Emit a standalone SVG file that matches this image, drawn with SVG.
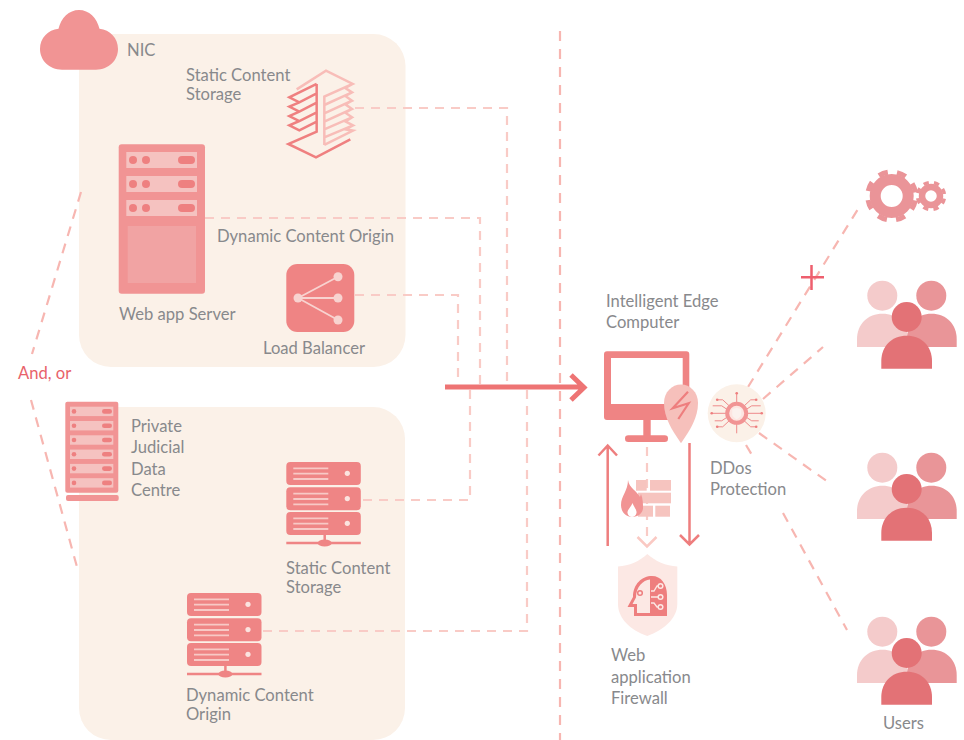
<svg xmlns="http://www.w3.org/2000/svg" xmlns:xlink="http://www.w3.org/1999/xlink" width="964" height="740" viewBox="0 0 964 740">
<style>
text{font-family:"Lato","Liberation Sans",sans-serif;font-size:16.6px;fill:#88898c;font-weight:400}
.dash{fill:none;stroke:#f9cbc6;stroke-width:2.200;stroke-dasharray:9 7}
.dash2{fill:none;stroke:#f7b6b1;stroke-width:2.200;stroke-dasharray:10 8}
.panel{fill:#fbf1e8}
.slot{fill:#f5c2c0}
.pill{fill:#ee8080}
.unit{fill:#ef8585}
.ul{stroke:#f8c9c6;stroke-width:1.800}
.ar{fill:none;stroke:#ee7e7e;stroke-width:2.500}
</style>
<defs>
<g id="stack">
<rect class="unit" x="0" y="0" width="74.500" height="23" rx="4"/>
<rect class="unit" x="0" y="25.300" width="74.500" height="23" rx="4"/>
<rect class="unit" x="0" y="50" width="74.500" height="23" rx="4"/>
<g class="ul"><path d="M7 6.300H42M7 11.700H42M7 17H42M7 31.600H42M7 37H42M7 42.300H42M7 56.300H42M7 61.700H42M7 67H42"/></g>
<circle cx="61" cy="11.300" r="2.600" fill="#fbe3df"/><circle cx="61" cy="36.600" r="2.600" fill="#fbe3df"/><circle cx="61" cy="61.300" r="2.600" fill="#fbe3df"/>
<path d="M38.400 73V81M0 81H74.500" stroke="#ef8585" stroke-width="2.500" fill="none"/>
<ellipse cx="38.400" cy="81" rx="7" ry="3.600" fill="#ef8585"/>
</g>
<g id="bigslot">
<rect class="slot" x="126.300" y="0" width="70.700" height="16"/>
<circle cx="133" cy="8" r="4" fill="#ee8080"/><circle cx="146" cy="8" r="4" fill="#ee8080"/>
<rect class="pill" x="178" y="4" width="17" height="8" rx="4"/>
</g>
<g id="smallslot">
<rect class="slot" x="70" y="0" width="43.300" height="9.400"/>
<circle cx="74" cy="4.700" r="2.300" fill="#ee8080"/>
<rect class="pill" x="102" y="2.400" width="10" height="4.600" rx="2.300"/>
</g>
<g id="people">
<circle cx="882.300" cy="295.700" r="15" fill="#f4cbcb"/>
<path d="M857 347V339C857 324 868 313.700 882.500 313.700C897 313.700 908 324 908 339V347Z" fill="#f4cbcb"/>
<circle cx="931.300" cy="295.700" r="15" fill="#e99598"/>
<path d="M907 347V339C907 324 917 313.700 931.500 313.700C946 313.700 956.700 324 956.700 339V347Z" fill="#e99598"/>
<circle cx="906.700" cy="317" r="15" fill="#e37276"/>
<path d="M881.300 368.700V361C881.300 346 892 335.700 906.700 335.700C921.500 335.700 932 346 932 361V368.700Z" fill="#e37276"/>
</g>
<g id="ddosHalf" fill="none" stroke="#ee8a8a" stroke-width="1">
<path d="M-7 -7L-14 -13.500H-19.500"/>
<path d="M-9 -3.500L-15 -7.500H-24"/>
<path d="M-10 0H-25"/>
<path d="M-9 3.500L-15 7.500H-22"/>
<path d="M-7 7L-14 13.500H-19.500"/>
<circle cx="-19.500" cy="-13.500" r="1.300" fill="#ee7e7e" stroke="none"/>
<circle cx="-25" cy="0" r="1.300" fill="#ee7e7e" stroke="none"/>
<circle cx="-19.500" cy="13.500" r="1.300" fill="#ee7e7e" stroke="none"/>
</g>
</defs>
<rect width="964" height="740" fill="#fff"/>

<g id="panels">
<rect id="panel-nic" class="panel" x="79" y="34" width="326.500" height="333" rx="32"/>
<rect id="panel-private" class="panel" x="79" y="407" width="326" height="333" rx="32"/>
</g>

<g id="connectors">
<path class="dash" d="M355 108H507V384"/>
<path class="dash" d="M205 218H480V384"/>
<path class="dash" d="M355 295H458V384"/>
<path class="dash" d="M363 500H470V390"/>
<path class="dash" d="M263 631H527V390"/>
<path class="dash2" d="M560 31V740"/>
<path class="dash2" d="M81 192L32 354"/>
<path class="dash2" d="M31 400L77 567"/>
<path class="dash2" d="M748 387L858 209"/>
<path class="dash2" d="M763 399L823 347"/>
<path class="dash2" d="M759 433L828 482"/>
<path class="dash2" d="M746 445L755 460"/>
<path class="dash2" d="M783 513L847 630"/>
<path class="dash" d="M647 447V543"/>
<path d="M637.500 537L647 546.500L656.500 537" fill="none" stroke="#fac9c3" stroke-width="2.500"/>
<path d="M445 387H583M571 375L584 387.500L571 400" fill="none" stroke="#ee7474" stroke-width="5"/>
<path class="ar" d="M607.700 546V446M598.500 455.500L607.700 445.500L617 455.500"/>
<path class="ar" d="M689.500 443V544M680 535L689.500 544.500L699 535"/>
<path d="M801 277.300H824M811.500 265V290" stroke="#ee5f6e" stroke-width="2.500" fill="none"/>
</g>

<g id="nic">
<path d="M62 69.700C49 69.700 40 60 40 49C40 38 48 30 58.500 28.800C61 18 69 10 79 10C89 10 97 18 99.500 28.800C110 30 118 38 118 49C118 60 109 69.700 96 69.700Z" fill="#f19494"/>
<text x="127" y="56">NIC</text>
</g>

<g id="static-storage-top">
<g transform="translate(281 60) scale(.3333)" fill="none" stroke-width="7.500">
<path stroke="#f8bdb8" d="M47 88L135 32L215 72L130 110V255M215 72L193 84L213 97L130 135M213 97L193 108L213 122L130 160M213 122L193 133L213 147L130 185M213 147L193 158L213 172L130 208M213 172L193 184L216 196L130 232M216 196L193 208L216 212L130 255"/>
<path stroke="#ef8080" d="M107 72L25 112L55 127L107 100M55 127L25 140L55 155L107 128M55 155L25 168L55 183L107 157M55 183L25 196L55 211L107 185M107 72V215L22 252L105 292L208 238"/>
</g>
<text x="186" y="81">Static Content</text>
<text x="186" y="100">Storage</text>
</g>

<g id="web-app-server">
<rect x="118.700" y="144.300" width="86.300" height="149.400" rx="3" fill="#f19494"/>
<use xlink:href="#bigslot" href="#bigslot" y="152"/>
<use xlink:href="#bigslot" href="#bigslot" y="176"/>
<use xlink:href="#bigslot" href="#bigslot" y="200"/>
<rect x="127.700" y="226" width="68.300" height="57" fill="#f1a3a3"/>
<text x="119" y="320">Web app Server</text>
</g>

<g id="dynamic-origin-top">
<text x="217" y="242">Dynamic Content Origin</text>
</g>

<g id="load-balancer">
<rect x="286.300" y="264" width="68" height="68" rx="11" fill="#ef8484"/>
<path d="M298 298L338 276.700M298 298H338M298 298L338 320" stroke="#f8d3d0" stroke-width="1.800" fill="none"/>
<g fill="#f8d3d0"><circle cx="298" cy="298" r="4.500"/><circle cx="338" cy="276.700" r="4.500"/><circle cx="338" cy="298" r="4.500"/><circle cx="338" cy="320" r="4.500"/></g>
<text x="263" y="354">Load Balancer</text>
</g>

<g id="and-or"><text x="18" y="379" style="fill:#e8626a">And, or</text></g>

<g id="private-data-centre">
<rect x="65.300" y="401.700" width="53" height="91" rx="2" fill="#f19494"/>
<rect x="66" y="495" width="52.700" height="6" rx="2" fill="#f19494"/>
<use xlink:href="#smallslot" href="#smallslot" y="406.700"/>
<use xlink:href="#smallslot" href="#smallslot" y="421"/>
<use xlink:href="#smallslot" href="#smallslot" y="435.300"/>
<use xlink:href="#smallslot" href="#smallslot" y="449.600"/>
<use xlink:href="#smallslot" href="#smallslot" y="463.900"/>
<use xlink:href="#smallslot" href="#smallslot" y="478.200"/>
<text x="131" y="432">Private</text>
<text x="131" y="453">Judicial</text>
<text x="131" y="475">Data</text>
<text x="131" y="496">Centre</text>
</g>

<g id="static-storage-bottom">
<use xlink:href="#stack" href="#stack" x="286.300" y="462"/>
<text x="286" y="574">Static Content</text>
<text x="286" y="593">Storage</text>
</g>

<g id="dynamic-origin-bottom">
<use xlink:href="#stack" href="#stack" x="187" y="593"/>
<text x="186" y="701">Dynamic Content</text>
<text x="186" y="720">Origin</text>
</g>

<g id="edge-computer">
<path fill-rule="evenodd" d="M607 351.300H686.300Q689.300 351.300 689.300 354.300V417Q689.300 420 686.300 420H607Q604 420 604 417V354.300Q604 351.300 607 351.300ZM611 358V404H682.700V358Z" fill="#ef8484"/>
<rect x="643.300" y="420" width="7.400" height="17" fill="#ef8484"/>
<rect x="625" y="435.300" width="43" height="6.700" rx="3.300" fill="#ef8484"/>
<path d="M681 443.300C672 430 664 418 664 403C664 392 672 384.500 681 384.500C690 384.500 698 392 698 403C698 418 690 430 681 443.300Z" fill="#f6c0bb"/>
<path d="M688 391.700L672.700 408.300L688.700 403.300L678.300 419" fill="none" stroke="#ee7e7e" stroke-width="2.200"/>
<text x="606" y="307">Intelligent Edge</text>
<text x="606" y="328">Computer</text>
</g>

<g id="ddos">
<circle cx="736.700" cy="413.300" r="29" fill="#fbf1e8"/>
<g transform="translate(736.700 413.300)">
<path d="M0 -10V-20M0 10V20" stroke="#ee8a8a" stroke-width="1"/>
<circle cx="0" cy="-20" r="1.300" fill="#ee7e7e"/>
<use xlink:href="#ddosHalf" href="#ddosHalf"/>
<use xlink:href="#ddosHalf" href="#ddosHalf" transform="scale(-1 1)"/>
<circle r="9.500" fill="#fde5e1" stroke="#f19494" stroke-width="4"/>
<path d="M0 -5.500L4.500 -4V1C4.500 3.500 2 5 0 6C-2 5 -4.500 3.500 -4.500 1V-4Z" fill="#fbf1ee"/>
</g>
<text x="710" y="474">DDos</text>
<text x="710" y="495">Protection</text>
</g>

<g id="firewall">
<g fill="#f6c4bf">
<rect x="636" y="480" width="10.700" height="10.700"/>
<rect x="650" y="480" width="21" height="10.700"/>
<rect x="638" y="492.700" width="33" height="10.600"/>
<rect x="638" y="505.700" width="15" height="11"/>
<rect x="655.300" y="505.700" width="14.700" height="11"/>
</g>
<path d="M628 480C629 488 637 491 640 497L641 494C643 499 643 504 643 508C643 513 638 517 632 517C626 517 621 512 621 505C621 496 628 491 628 480Z" fill="#f19494"/>
<path d="M632.500 503C634 507 637 510 636.500 513C636 515.500 634 517 632 517C630 517 628 515.500 627.500 513C627 510 631 507 632.500 503Z" fill="#fff"/>
</g>

<g id="waf">
<path d="M647.300 554C655 561 666 566 677.300 566.500V604C677.300 618 664 630 647.300 636C630 630 618 618 618 604V566.500C629 566 640 561 647.300 554Z" fill="#fce8e4"/>
<path d="M634 616V607H627.500L633 597C633 584 642 576 652 576C661 576 667 584 667 595V616Z" fill="#ee7e7e"/>
<path d="M637 613V604H632.500L636 597.500C636 587 643 580 650 579.500V613Z" fill="#fce8e4"/>
<circle cx="640" cy="593" r="2.300" fill="none" stroke="#ee7e7e" stroke-width="1.500"/>
<path d="M651 591H654L657 586H658M651 597H658M651 603H654L657 607H658" fill="none" stroke="#fce8e4" stroke-width="1.300"/>
<g fill="#ee7e7e" stroke="#fce8e4" stroke-width="1.500"><circle cx="660.500" cy="586" r="2.300"/><circle cx="660.500" cy="597" r="2.300"/><circle cx="660.500" cy="607" r="2.300"/></g>
<text x="611" y="661">Web</text>
<text x="611" y="683">application</text>
<text x="611" y="704">Firewall</text>
</g>

<g id="gears" fill="none" stroke="#ea9498">
<circle cx="891.700" cy="196" r="16.500" stroke-width="11"/>
<circle cx="891.700" cy="196" r="24" stroke-width="5" stroke-dasharray="9.400 9.450" stroke-dashoffset="-4.700"/>
<circle cx="931" cy="196" r="9" stroke-width="6.500"/>
<circle cx="931" cy="196" r="13.500" stroke-width="3.500" stroke-dasharray="5.300 5.300" stroke-dashoffset="-2.650"/>
</g>

<g id="users-1"><use xlink:href="#people" href="#people"/></g>
<g id="users-2"><use xlink:href="#people" href="#people" y="172"/></g>
<g id="users-3"><use xlink:href="#people" href="#people" y="336"/><text x="883" y="729">Users</text></g>
</svg>
